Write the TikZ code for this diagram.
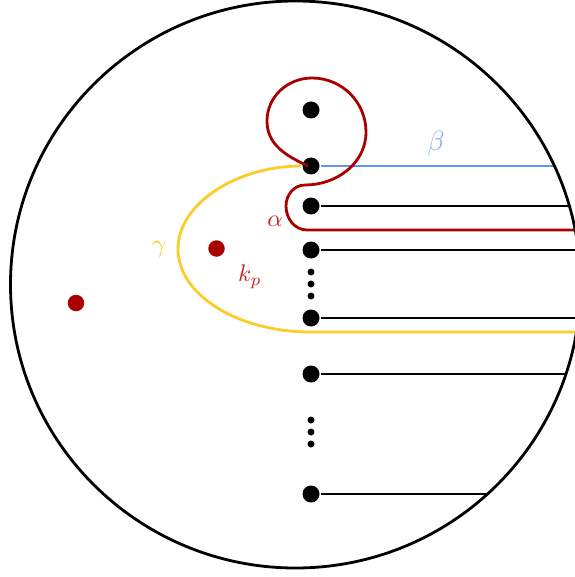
\documentclass[tikz,border=0pt]{standalone}
\definecolor{dred}{RGB}{168,0,0}
\definecolor{lred}{RGB}{205,30,30}
\definecolor{ylw}{RGB}{252,204,40}
\definecolor{blu}{RGB}{100,149,237}
\definecolor{lblu}{RGB}{140,175,240}
\begin{document}
\begin{tikzpicture}[x=1pt,y=-1pt,line width=2.8pt,
  puncture/.style={circle,fill=black,inner sep=0pt,minimum size=17pt},
  smalldot/.style={circle,fill=black,inner sep=0pt,minimum size=7pt},
  rdot/.style={circle,fill=dred,inner sep=0pt,minimum size=16.5pt},
  lab/.style={inner sep=0pt}]
\useasboundingbox (0,0) rectangle (574,577);
\coordinate (O) at (295.5,284.5);
% punctures
\node[puncture] (p110) at (311,110) {};
\node[puncture] (p166) at (311,166) {};
\node[puncture] (p206) at (311,206) {};
\node[puncture] (p250) at (311,250) {};
\node[puncture] (p318) at (311,318) {};
\node[puncture] (p374) at (311,374) {};
\node[puncture] (p494) at (311,494) {};
\node[smalldot] (s1) at (311,272) {};
\node[smalldot] (s2) at (311,284) {};
\node[smalldot] (s3) at (311,296) {};
\node[smalldot] (s4) at (311,420) {};
\node[smalldot] (s5) at (311,432) {};
\node[smalldot] (s6) at (311,444) {};
\node[rdot] (r1) at (216.5,248.5) {};
\node[rdot] (r2) at (76,303) {};
% far ends (clipped by the disc)
\coordinate (e166) at (620,166);
\coordinate (e206) at (620,206);
\coordinate (e230) at (620,230);
\coordinate (e250) at (620,250);
\coordinate (e318) at (620,318);
\coordinate (e332) at (620,332);
\coordinate (e374) at (620,374);
\coordinate (e494) at (620,494);
\begin{scope}
  \clip (O) ellipse [x radius=285, y radius=283.5];
  \draw[ylw] (p166.west) .. controls (237.6,166) and (178,203.2) .. (178,249)
     .. controls (178,294.8) and (237.6,332) .. (311,332) -- (e332);
  \draw[blu] (p166.east) -- (e166);
  \draw (p206.east) -- (e206);
  \draw (p250.east) -- (e250);
  \draw (p318.east) -- (e318);
  \draw (p374.east) -- (e374);
  \draw (p494.east) -- (e494);
  \draw[dred] ([xshift=-3pt]p166.center) to[out=155,in=-90] (267,121)
     to[out=90,in=180] (312,78) to[out=0,in=90] (366,132)
     to[out=-90,in=0] (305,185) to[out=180,in=90] (286,206)
     to[out=-90,in=180] (307,230) -- (e230);
\end{scope}
\draw (O) ellipse [x radius=285, y radius=283.5];
% labels
\node[lab,text=lred,scale=2.4] (alab) at (275,221) {$\alpha$};
\node[lab,text=lred,scale=2.4] (klab) at (250,277) {$k_p$};
\node[lab,text=lblu,scale=2.8] (blab) at (436,144) {$\beta$};
\node[lab,text=ylw,scale=2.6] (glab) at (159,249) {$\gamma$};
\end{tikzpicture}
\end{document}
